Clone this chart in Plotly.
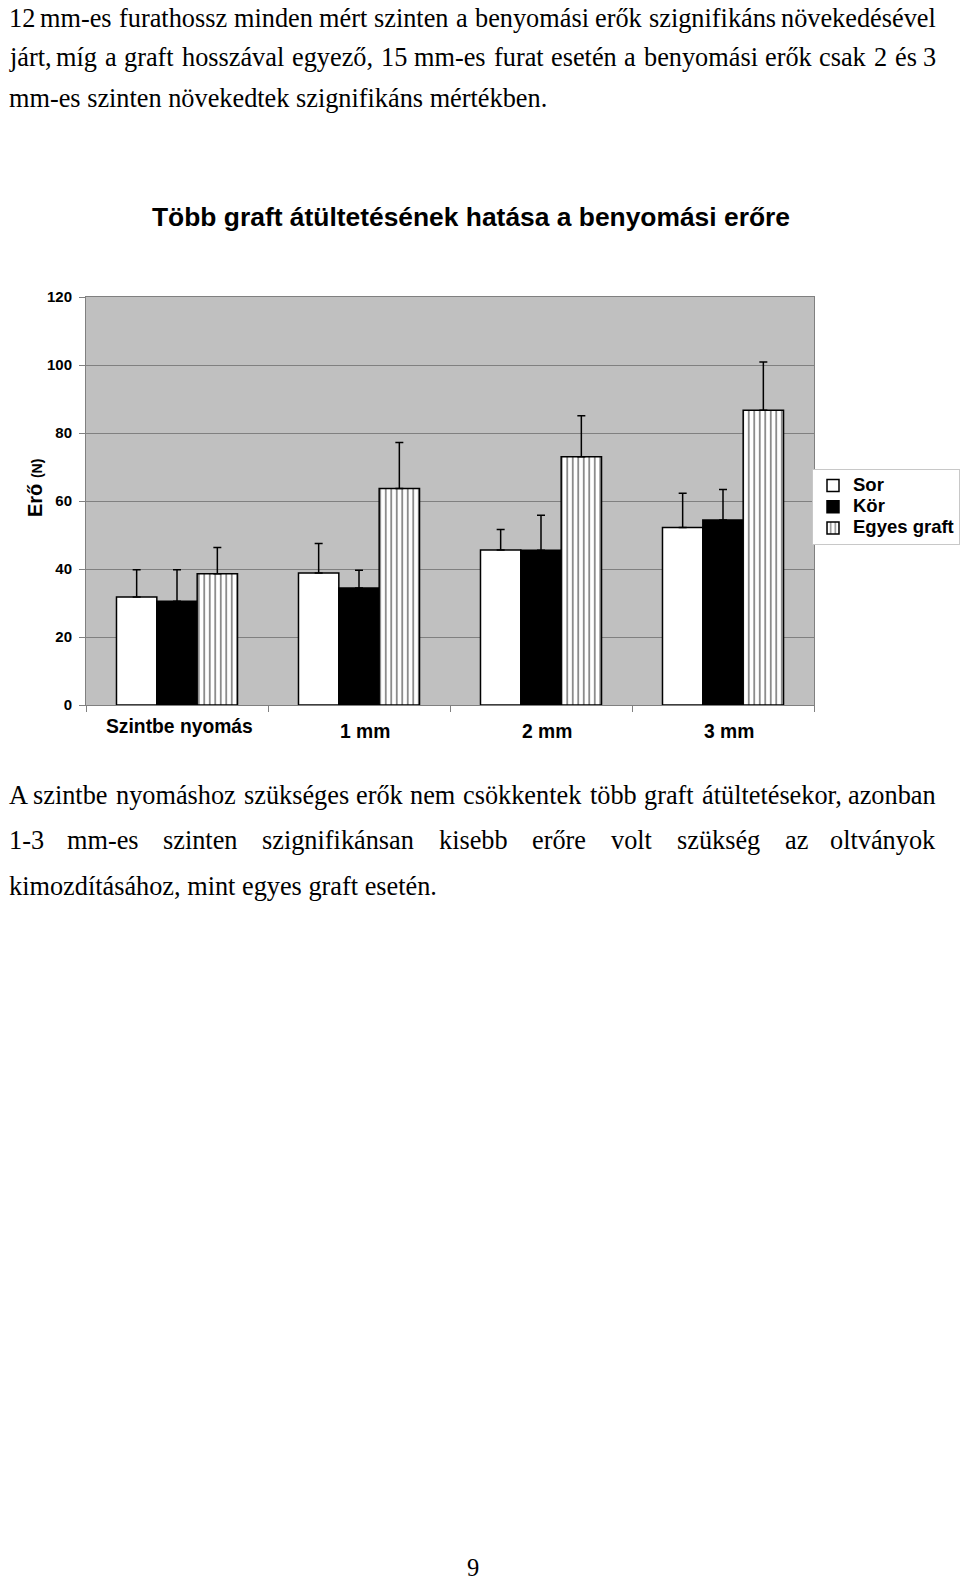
import plotly.graph_objects as go

# ---------------- data ----------------
categories = ["Szintbe nyomás", "1 mm", "2 mm", "3 mm"]
series_names = ["Sor", "Kör", "Egyes graft"]
sor = [31.8, 38.8, 45.6, 52.2]
sor_err = [8.0, 8.7, 6.0, 10.1]
kor = [30.5, 34.4, 45.5, 54.4]
kor_err = [9.3, 5.2, 10.3, 9.0]
egyes = [38.6, 63.7, 73.0, 86.7]
egyes_err = [7.7, 13.5, 12.1, 14.2]
y_ticks = [0, 20, 40, 60, 80, 100, 120]

title_text = "Több graft átültetésének hatása a benyomási erőre"
y_title_main = "Erő"
y_title_unit = "(N)"

para1 = [
    "12 mm-es furathossz minden mért szinten a benyomási erők szignifikáns növekedésével",
    "járt, míg a graft hosszával egyező, 15 mm-es furat esetén a benyomási erők csak 2 és 3",
    "mm-es szinten növekedtek szignifikáns mértékben.",
]
para2 = [
    "A szintbe nyomáshoz szükséges erők nem csökkentek több graft átültetésekor, azonban",
    "1-3 mm-es szinten szignifikánsan kisebb erőre volt szükség az oltványok",
    "kimozdításához, mint egyes graft esetén.",
]
page_number = "9"

# ---------------- layout geometry (page pixels) ----------------
W, H = 960, 1582
PL, PR, PT, PB = 86, 814, 297, 705
PW, PH = PR - PL, PB - PT


def xp(px):
    return (px - PL) / PW


def yp(py):
    return (PB - py) / PH


SANS = "Liberation Sans, Arial, sans-serif"
SERIF = "Liberation Serif, Times New Roman, serif"
LEG_TXT = 18.5


def leg_name(s):
    return f"<span style='font-size:{LEG_TXT}px'>{s}</span>"


fig = go.Figure()

err_common = dict(type="data", symmetric=False, arrayminus=[0] * len(categories),
                  color="black", thickness=1.5, width=4)

fig.add_trace(go.Bar(
    name=leg_name(series_names[0]), x=categories, y=sor,
    marker=dict(color="white", line=dict(color="black", width=1.5)),
    error_y=dict(array=sor_err, **err_common),
))
fig.add_trace(go.Bar(
    name=leg_name(series_names[1]), x=categories, y=kor,
    marker=dict(color="black", line=dict(color="black", width=1.5)),
    error_y=dict(array=kor_err, **err_common),
))
fig.add_trace(go.Bar(
    name=leg_name(series_names[2]), x=categories, y=egyes,
    marker=dict(color="white", line=dict(color="black", width=1.5),
                pattern=dict(shape="|", fgcolor="black", bgcolor="white",
                             size=5.5, solidity=0.3, fillmode="overlay")),
    error_y=dict(array=egyes_err, **err_common),
))

annotations = []

# chart title
annotations.append(dict(text=title_text, x=xp(471), y=yp(217), xref="paper", yref="paper",
                        xanchor="center", yanchor="middle", showarrow=False,
                        font=dict(family=SANS, size=26.4, color="black", weight="bold")))

# y-axis title
annotations.append(dict(
    text=f"{y_title_main} <span style='font-size:14px'>{y_title_unit}</span>",
    x=xp(35), y=yp(488), xref="paper", yref="paper", textangle=-90,
    xanchor="center", yanchor="middle", showarrow=False,
    font=dict(family=SANS, size=20, color="black", weight="bold")))

# category labels
cat_y = [726, 731, 731, 731]
cat_shift = [2, 6, 6, 6]
for c, cy, cs in zip(categories, cat_y, cat_shift):
    annotations.append(dict(text=c, x=c, y=yp(cy), xref="x", yref="paper", xshift=cs,
                            xanchor="center", yanchor="middle", showarrow=False,
                            font=dict(family=SANS, size=19.3, color="black", weight="bold")))

# body text (justified lines)
TW = {c: 444 for c in "aáceéz"}
TW.update({c: 500 for c in "bdghknoóöőpquúüűvxy0123456789"})
TW.update({c: 278 for c in "iíjlt"})
TW.update({"f": 333, "r": 333, "s": 389, "m": 778, "w": 722, "A": 722,
           ",": 250, ".": 250, "-": 333, " ": 250})
FS = 26.3
LEFT, RIGHT = 7, 938


def tw(s):
    return sum(TW.get(ch, 500) for ch in s) / 1000 * FS


def add_line(line, cy, justify):
    font = dict(family=SERIF, size=FS, color="black")
    if not justify:
        annotations.append(dict(text=line, x=xp(LEFT), y=yp(cy), xref="paper", yref="paper",
                                xanchor="left", yanchor="middle", showarrow=False, font=font))
        return
    words = line.split(" ")
    widths = [tw(w) for w in words]
    gap = (RIGHT - LEFT - sum(widths)) / (len(words) - 1)
    x = LEFT
    for i, (w, wd) in enumerate(zip(words, widths)):
        if i == 0:
            ax, anc = x, "left"
        elif i == len(words) - 1:
            ax, anc = RIGHT, "right"
        else:
            ax, anc = x + wd / 2, "center"
        annotations.append(dict(text=w, x=xp(ax), y=yp(cy), xref="paper", yref="paper",
                                xanchor=anc, yanchor="middle", showarrow=False, font=font))
        x += wd + gap


p1_y = [18, 57.5, 98.5]
p2_y = [795.5, 840, 886]
for i, (ln, cy) in enumerate(zip(para1, p1_y)):
    add_line(ln, cy, i < len(para1) - 1)
for i, (ln, cy) in enumerate(zip(para2, p2_y)):
    add_line(ln, cy, i < len(para2) - 1)

annotations.append(dict(text=page_number, x=xp(473), y=yp(1581.5), xref="paper", yref="paper",
                        xanchor="center", yanchor="bottom", showarrow=False, borderpad=0,
                        font=dict(family=SERIF, size=24.5, color="black")))

fig.update_layout(
    width=W, height=H, autosize=False,
    margin=dict(l=PL, r=W - PR, t=PT, b=H - PB, pad=0, autoexpand=False),
    paper_bgcolor="white", plot_bgcolor="#c0c0c0",
    barmode="group", bargap=0.335, bargroupgap=0,
    showlegend=True,
    legend=dict(xref="container", yref="container", x=812 / W, y=1 - 469 / H,
                xanchor="left", yanchor="top", bgcolor="white",
                bordercolor="#c8c8c8", borderwidth=1, itemwidth=30, tracegroupgap=0,
                font=dict(family=SANS, size=14, color="black", weight="bold")),
    annotations=annotations,
    xaxis=dict(type="category", showticklabels=False, ticks="outside", ticklen=6,
               tickcolor="#808080", tickson="boundaries", showline=True,
               linecolor="#808080", linewidth=1, mirror=True, showgrid=False,
               zeroline=False),
    yaxis=dict(range=[0, 120], tickvals=y_ticks, ticks="outside", ticklen=6,
               tickcolor="#808080", showline=True, linecolor="#808080", linewidth=1,
               mirror=True, showgrid=True, gridcolor="#808080", gridwidth=1,
               zeroline=False, ticklabelstandoff=4,
               tickfont=dict(family=SANS, size=15, color="black", weight="bold")),
)

fig.write_html("out.html", config={"displayModeBar": False},
               post_script="document.body.style.margin='0';document.body.style.overflow='hidden';")
